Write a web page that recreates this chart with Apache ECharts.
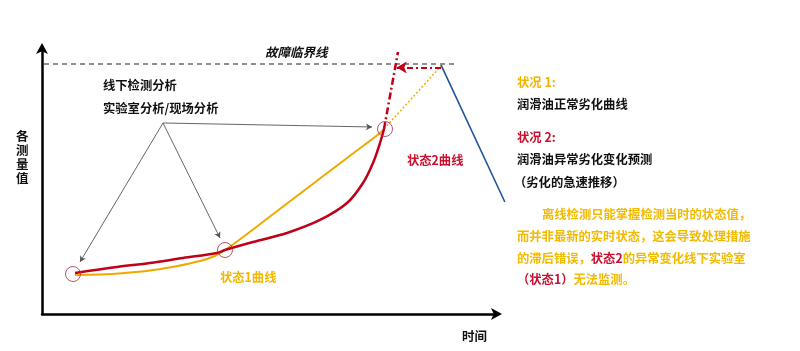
<!DOCTYPE html>
<html><head><meta charset="utf-8">
<script src="https://cdn.jsdelivr.net/npm/echarts@6/dist/echarts.min.js"></script>
<style>html,body{margin:0;padding:0;background:#fff}#c{width:800px;height:351px}</style>
</head><body><div id="c"></div>
<script>
// time (0-100) vs measured value (0-100)
var state1Curve = [[7.24,14.61],[12.72,14.79],[18.2,15.36],[23.68,16.29],[29.17,17.79],[34.65,19.85],[37.94,21.72],[40.13,23.97],[42.32,26.59],[46.27,31.65],[53.73,41.39],[60.96,50.75],[68.2,60.11],[73.46,66.85],[75.0,69.1]];
var state2Curve = [[7.24,15.36],[16.45,17.6],[23.68,19.1],[30.92,20.97],[38.38,22.85],[40.13,23.97],[46.27,26.97],[53.73,30.34],[60.96,35.21],[66.89,41.57],[70.39,49.06],[72.59,56.55],[74.12,64.04],[75.0,69.29]];
var state2Projection = [[75.0,69.29],[78.07,98.13]];
var state1Projection = [[75.0,69.29],[87.5,92.88]];
var failureDrop = [[87.5,93.3],[101.5,41.95]];
var criticalLine = [[0.44,93.63],[91.0,93.63]];
var advanceArrow = [[87.5,92.3],[77.8,92.3]];
var checkPoints = [[6.8,14.98],[40.13,23.97],[75.22,69.29]];
var arrowApex = [26.54,71.54];
var arrowTargets = [[8.33,19.48],[39.04,28.46],[72.37,70.04]];

var FONT = '"Noto Sans CJK SC", "Noto Sans", sans-serif';
var GOLD = '#f0b400', RED = '#c8102e', DARK = '#111';

function txt(t, x, y, color, size, extra) {
  var s = {text: t, x: x, y: y, fill: color, font: 'bold ' + size + 'px ' + FONT, align: 'left', verticalAlign: 'middle'};
  if (extra) for (var k in extra) s[k] = extra[k];
  return {type: 'text', style: s, z: 100};
}
function rich(x, y, parts) {
  var text = parts.map(function (p) { return '{' + p[0] + '|' + p[1] + '}'; }).join('');
  return {type: 'text', z: 100, style: {
    text: text, x: x, y: y, align: 'left', verticalAlign: 'middle',
    font: 'bold 12.3px ' + FONT,
    rich: {
      g: {fill: '#f2ba00', color: '#f2ba00', fontWeight: 'bold', fontSize: 12.3, fontFamily: FONT},
      r: {fill: RED, color: RED, fontWeight: 'bold', fontSize: 12.3, fontFamily: FONT}
    }
  }};
}
var hidden = {show: false};
var chart = echarts.init(document.getElementById('c'));
chart.setOption({
  animation: false,
  backgroundColor: '#fff',
  grid: [{left: 42, right: 302, top: 47, bottom: 37}, {left: 42, right: 290, top: 47, bottom: 37}],
  xAxis: [{type: 'value', min: 0, max: 100, gridIndex: 0,
    axisLine: {show: true, onZero: false, symbol: ['none', 'arrow'], symbolSize: [9, 11], symbolOffset: [0, 4], lineStyle: {color: '#000', width: 2.5}},
    axisTick: {show: false}, axisLabel: {show: false}, splitLine: {show: false}},
    {type: 'value', min: 0, max: 102.63, gridIndex: 1, axisLine: hidden, axisTick: hidden, axisLabel: hidden, splitLine: hidden}],
  yAxis: [{type: 'value', min: 0, max: 100, gridIndex: 0,
    axisLine: {show: true, onZero: false, symbol: ['none', 'arrow'], symbolSize: [9, 11], symbolOffset: [0, 4], lineStyle: {color: '#000', width: 2.5}},
    axisTick: {show: false}, axisLabel: {show: false}, splitLine: {show: false}},
    {type: 'value', min: 0, max: 100, gridIndex: 1, axisLine: hidden, axisTick: hidden, axisLabel: hidden, splitLine: hidden}],
  series: [
    {type: 'line', data: criticalLine, symbol: 'none', lineStyle: {color: '#222', width: 1, type: [5, 4]}, z: 2},
    {type: 'line', data: state1Curve, smooth: 0.25, symbol: 'none', lineStyle: {color: '#f0a800', width: 2}, z: 3},
    {type: 'line', data: state2Curve, smooth: 0.35, symbol: 'none', lineStyle: {color: '#c00018', width: 2.5}, z: 4},
    {type: 'line', data: state2Projection, symbol: 'none', clip: false, lineStyle: {color: '#c00018', width: 2.5, type: [7, 3, 2, 3]}, z: 4},
    {type: 'line', data: state1Projection, symbol: 'none', lineStyle: {color: '#f0b000', width: 1.5, type: [2, 2]}, z: 3},
    {type: 'line', data: failureDrop, xAxisIndex: 1, yAxisIndex: 1, symbol: 'none', clip: false, lineStyle: {color: '#1f5596', width: 1.6}, z: 3},
    {type: 'line', data: [], symbol: 'none',
      markLine: {silent: true, symbol: ['none', 'arrow'], symbolSize: [9, 10], label: {show: false},
        lineStyle: {color: '#c00018', width: 2, type: [6, 3, 2, 3]},
        data: [[{coord: advanceArrow[0]}, {coord: advanceArrow[1]}]]}},
    {type: 'line', data: [], symbol: 'none',
      markLine: {silent: true, symbol: ['none', 'arrow'], symbolSize: [5, 6], label: {show: false},
        lineStyle: {color: '#555', width: 0.9, type: 'solid'},
        data: arrowTargets.map(function (t) { return [{coord: arrowApex}, {coord: t}]; })}},
    {type: 'scatter', data: checkPoints, symbol: 'circle', symbolSize: 15,
      itemStyle: {color: 'rgba(0,0,0,0)', borderColor: '#a0304a', borderWidth: 1}, z: 6}
  ],
  graphic: [
    txt('故障临界线', 265, 52, DARK, 12.5, {font: 'italic bold 12.5px ' + FONT}),
    txt('线下检测分析', 103, 85, DARK, 12.3),
    txt('实验室分析/现场分析', 103, 108, DARK, 12.3),
    txt('状态2曲线', 407, 160, RED, 12.3),
    txt('状态1曲线', 220, 277, '#f2b800', 12.3),
    txt('时间', 462, 336, DARK, 12.5),
    txt('各\n测\n量\n值', 16, 157, DARK, 12.5, {lineHeight: 14}),
    txt('状况 1:', 517, 82, GOLD, 12.3),
    txt('润滑油正常劣化曲线', 517, 104, DARK, 12.3),
    txt('状况 2:', 517, 137, RED, 12.3),
    txt('润滑油异常劣化变化预测', 517, 159, DARK, 12.3),
    txt('（劣化的急速推移）', 514, 182, DARK, 12.3),
    rich(542, 214, [['g', '离线检测只能掌握检测当时的状态值，']]),
    rich(517, 236, [['g', '而并非最新的实时状态，这会导致处理措施']]),
    rich(517, 258, [['g', '的滞后错误，'], ['r', '状态2'], ['g', '的异常变化线下实验室']]),
    rich(517, 279, [['r', '（状态1）'], ['g', '无法监测。']])
  ]
});
</script></body></html>
